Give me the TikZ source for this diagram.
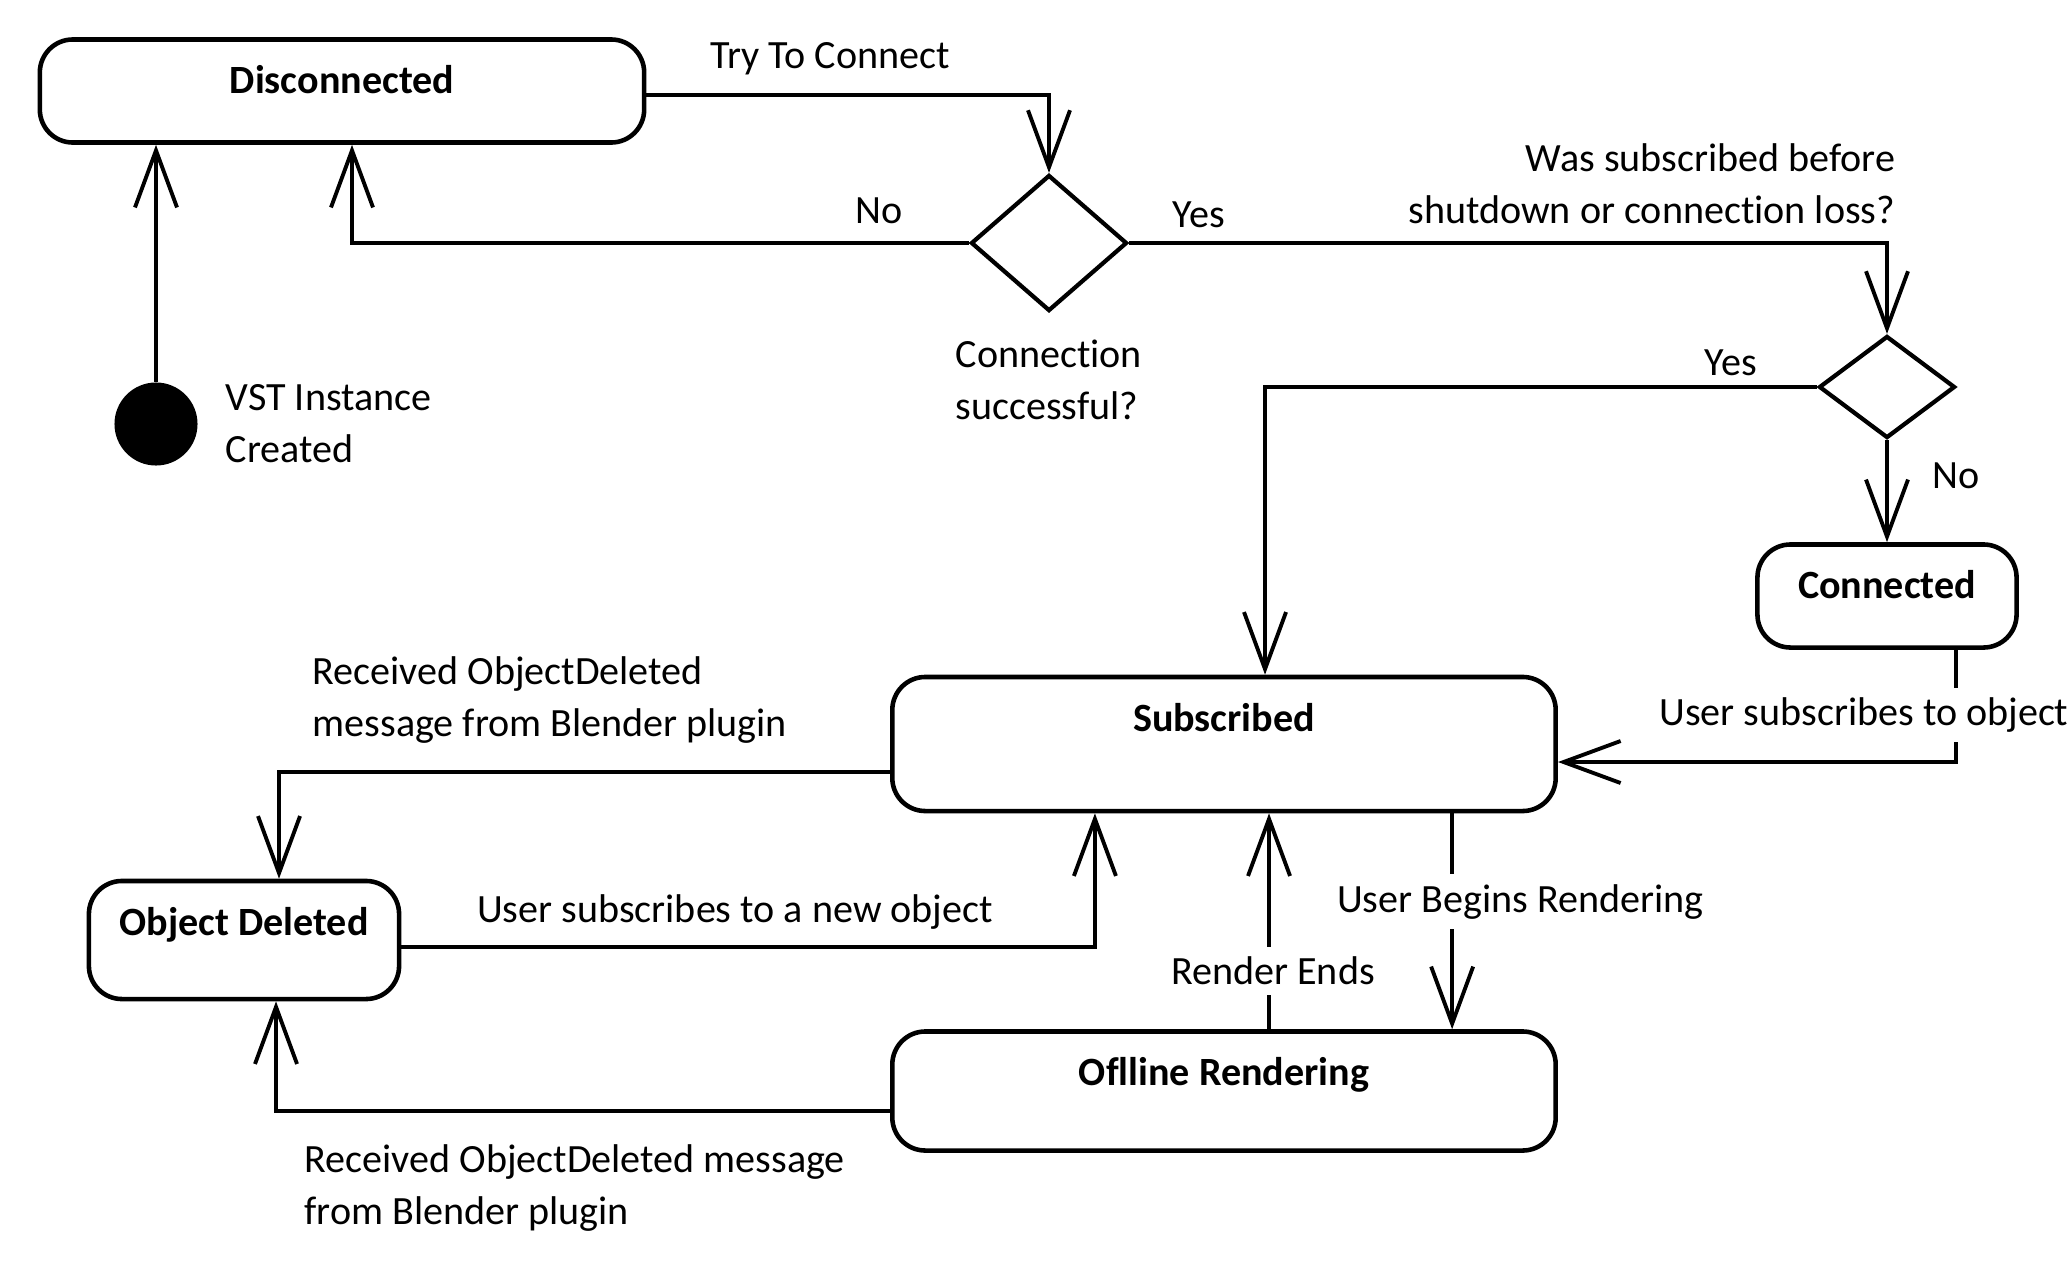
\documentclass[tikz,border=0pt]{standalone}
\usepackage{fontspec}
\setmainfont{Carlito}[Ligatures=NoCommon]
\usetikzlibrary{arrows.meta,shapes.geometric,positioning}
\newcommand{\diagfont}{\fontsize{11.4}{14.8}\selectfont}

\tikzset{
  statebox/.style={draw, rectangle, rounded corners=0.33cm, line width=1.3pt,
    inner xsep=0pt, inner ysep=0pt, text height=0.54cm, font=\diagfont\bfseries},
  choice/.style={draw, diamond, inner sep=0pt, line width=1.2pt},
  startdot/.style={circle, fill=black, minimum size=0.83cm, inner sep=0pt},
  trans/.style={-{Straight Barb[length=0.57cm,width=0.42cm]}, line width=1.1pt},
  note/.style={inner sep=0pt, align=left, font=\diagfont},
  onwire/.style={fill=white, inner xsep=0.05cm, inner ysep=0.1cm, font=\diagfont},
}

\begin{document}
\begin{tikzpicture}[x=0.01cm, y=-0.01cm]
\useasboundingbox (0,0) rectangle (2072,1260);

% states
\node[statebox, minimum width=6.04cm, text depth=0.49cm] (disc) at (342,91) {Disconnected};
\node[statebox, minimum width=2.59cm, text depth=0.49cm] (conn) at (1887,596) {Connected};
\node[statebox, minimum width=6.63cm, text depth=0.80cm] (sub) at (1224,744) {Subscribed};
\node[statebox, minimum width=3.10cm, text depth=0.64cm] (objdel) at (244,940) {Object Deleted};
\node[statebox, minimum width=6.63cm, text depth=0.65cm] (off) at (1224,1091) {Oflline Rendering};

% start and decisions
\node[startdot] (init) at (156,424) {};
\node[choice, minimum width=1.56cm, minimum height=1.36cm] (dec1) at (1049,243) {};
\node[choice, minimum width=1.36cm, minimum height=1.02cm] (dec2) at (1887,387) {};

% transitions
\draw[trans] (init) -- (init |- disc.south);
\draw[trans] ([yshift=-0.04cm]disc.east) -| (dec1.north);
\draw[trans] (dec1.west) -| ([xshift=0.1cm]disc.south);
\draw[trans] (dec1.east) -| (dec2.north);
\draw[trans] (dec2.west) -| ([xshift=0.41cm]sub.north);
\draw[trans] (dec2.south) -- (conn.north);
\draw[trans] ([xshift=0.69cm]conn.south) |- node[onwire, pos=0.29, xshift=-0.92cm] (subslbl) {User subscribes to object} ([yshift=-0.18cm]sub.east);
\draw[trans] ([yshift=-0.28cm]sub.west) -| ([xshift=0.35cm]objdel.north);
\draw[trans] ([yshift=-0.07cm]objdel.east) -| ([xshift=-1.29cm]sub.south);
\draw[trans] ([xshift=0.45cm]off.north) -- node[onwire, pos=0.27, xshift=0.04cm] (endslbl) {Render Ends} ([xshift=0.45cm]sub.south);
\draw[trans] ([xshift=2.28cm]sub.south) -- node[onwire, pos=0.41, xshift=0.68cm] (beginlbl) {User Begins Rendering} ([xshift=2.28cm]off.north);
\draw[trans] ([yshift=-0.2cm]off.west) -| ([xshift=0.32cm]objdel.south);

% labels
\node[note] (trylbl) at (830,59) {Try To Connect};
\node[note] (nolbl1) at (879,211) {No};
\node[note] (yeslbl1) at (1199,215) {Yes};
\node[note, anchor=east, align=right] (wasq) at (1896,184) {Was subscribed before\\shutdown or connection loss?};
\node[note, anchor=west] (connq) at (955,380) {Connection\\successful?};
\node[note, anchor=west] (vstlbl) at (225,424) {VST Instance\\Created};
\node[note] (yeslbl2) at (1731,363) {Yes};
\node[note] (nolbl2) at (1956,476) {No};
\node[note, anchor=west] (dellbl1) at (312,700) {Received ObjectDeleted\\message from Blender plugin};
\node[note] (newlbl) at (735,912) {User subscribes to a new object};
\node[note, anchor=west] (dellbl2) at (304,1188) {Received ObjectDeleted message\\from Blender plugin};
\end{tikzpicture}
\end{document}
